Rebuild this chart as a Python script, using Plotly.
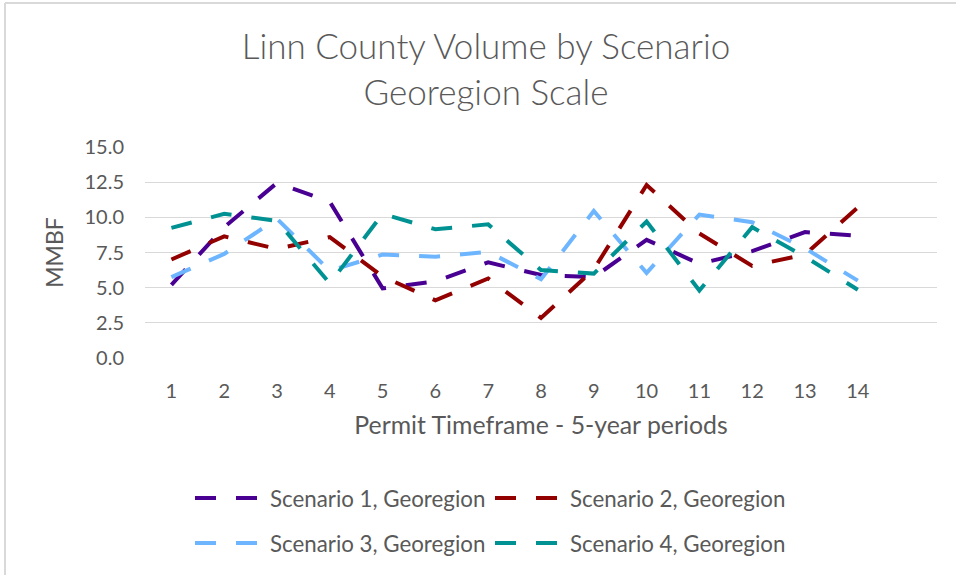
import plotly.graph_objects as go

# Permit timeframe categories (5-year periods); a 15th empty slot keeps the axis span
periods = list(range(1, 15))
period_labels = [str(p) for p in periods]

# Harvest volume (MMBF) per scenario, Georegion scale
scenario_1 = [5.2, 9.3, 12.45, 11.1, 4.95, 5.45, 6.8, 5.9, 5.75, 8.4, 6.7, 7.6, 8.95, 8.7]
scenario_2 = [7.0, 8.65, 7.75, 8.6, 5.8, 4.1, 5.65, 2.85, 6.3, 12.3, 8.85, 6.55, 7.35, 10.7]
scenario_3 = [5.75, 7.4, 9.9, 6.2, 7.35, 7.2, 7.55, 5.6, 10.45, 6.05, 10.2, 9.65, 7.8, 5.5]
scenario_4 = [9.25, 10.25, 9.75, 5.3, 10.25, 9.15, 9.5, 6.25, 6.0, 9.7, 4.8, 9.3, 7.2, 4.85]

series_names = ["Scenario 1, Georegion", "Scenario 2, Georegion",
                "Scenario 3, Georegion", "Scenario 4, Georegion"]
series_values = [scenario_1, scenario_2, scenario_3, scenario_4]
series_colors = ["#490092", "#920000", "#6DB6FF", "#009292"]
series_legends = ["legend", "legend", "legend2", "legend2"]

FONT = "Lato"
TEXT_GRAY = "#595959"
GRID_GRAY = "#D9D9D9"

W, H = 956, 575
M_L, M_R, M_T, M_B = 145, 19, 147, 217

fig = go.Figure()
for name, vals, color, lg in zip(series_names, series_values, series_colors, series_legends):
    fig.add_trace(go.Scatter(
        x=periods, y=vals, name=name, mode="lines",
        line=dict(color=color, width=4, dash="21px,20px"),
        legend=lg, hoverinfo="x+y+name",
    ))

plot_w = W - M_L - M_R
plot_h = H - M_T - M_B


def px_to_paper_x(px):
    return (px - M_L) / plot_w


def px_to_paper_y(py):
    return (H - M_B - py) / plot_h


legend_common = dict(
    orientation="h", xref="paper", yref="container",
    xanchor="left", yanchor="middle",
    font=dict(family=FONT, size=22.3, color=TEXT_GRAY),
    itemwidth=70, entrywidth=215, entrywidthmode="pixels",
    bgcolor="rgba(0,0,0,0)", borderwidth=0,
)

fig.update_layout(
    width=W, height=H,
    margin=dict(l=M_L, r=M_R, t=M_T, b=M_B, autoexpand=False),
    paper_bgcolor="white", plot_bgcolor="white",
    font=dict(family=FONT, color=TEXT_GRAY),
    title=dict(
        text="Linn County Volume by Scenario<br>Georegion Scale",
        x=486 / W, xanchor="center", xref="container",
        y=1 - 59 / H, yanchor="middle", yref="container",
        font=dict(family=FONT, size=35, color=TEXT_GRAY, weight=300),
    ),
    xaxis=dict(
        range=[0.5, 15.5], tickmode="array",
        tickvals=periods, ticktext=period_labels,
        showgrid=False, zeroline=False, showline=False,
        ticks="", ticklabelstandoff=19,
        tickfont=dict(family=FONT, size=20, color=TEXT_GRAY),
        title=dict(text="Permit Timeframe - 5-year periods",
                   font=dict(family=FONT, size=24.8, color=TEXT_GRAY),
                   standoff=15),
    ),
    yaxis=dict(
        range=[0, 15], dtick=2.5, tick0=0, tickformat=".1f",
        showgrid=True, gridcolor=GRID_GRAY, gridwidth=1.3,
        zeroline=False, showline=False,
        ticks="", ticklabelstandoff=20,
        tickfont=dict(family=FONT, size=20, color=TEXT_GRAY),
        title=dict(text="MMBF",
                   font=dict(family=FONT, size=23, color=TEXT_GRAY),
                   standoff=14),
    ),
    legend=dict(legend_common, x=px_to_paper_x(190), y=1 - 498 / H),
    legend2=dict(legend_common, x=px_to_paper_x(190), y=1 - 543 / H),
    showlegend=True,
)

# Chart-area frame (top and left edges visible in the page)
frame = dict(type="line", xref="paper", yref="paper",
             line=dict(color=GRID_GRAY, width=2))
fig.add_shape(frame, x0=px_to_paper_x(5), x1=px_to_paper_x(W + 10),
              y0=px_to_paper_y(3), y1=px_to_paper_y(3))
fig.add_shape(frame, x0=px_to_paper_x(5), x1=px_to_paper_x(5),
              y0=px_to_paper_y(3), y1=px_to_paper_y(H + 10))

fig.write_html("out.html")
